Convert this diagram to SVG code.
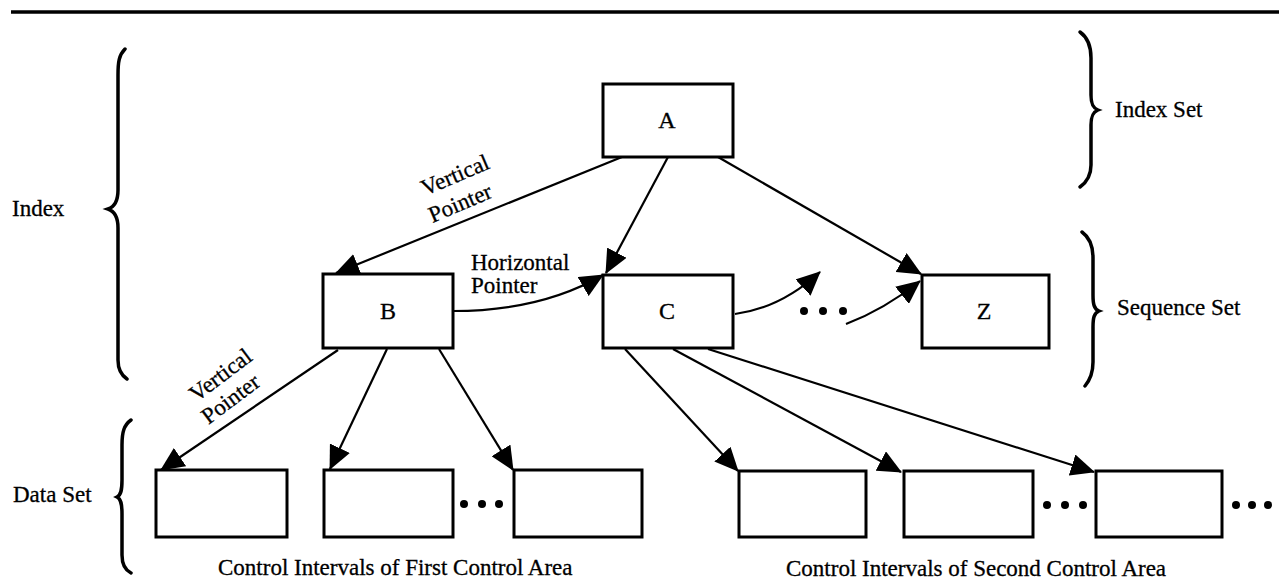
<svg xmlns="http://www.w3.org/2000/svg" width="1279" height="581" viewBox="0 0 1279 581">
<style>
.box{fill:#fff;stroke:#000;stroke-width:3}
.lbl{font-family:"Liberation Serif","Times New Roman",serif;font-size:23px;fill:#000;stroke:#000;stroke-width:0.3}
.nl{font-family:"Liberation Serif","Times New Roman",serif;font-size:24px;fill:#000;stroke:#000;stroke-width:0.3;text-anchor:middle}
.con{fill:none;stroke:#000;stroke-width:2.2;marker-end:url(#ah)}
.brace{fill:none;stroke:#000;stroke-width:3.5;stroke-linecap:round}
.dot{fill:#000}
</style>
<defs>
<marker id="ah" viewBox="0 0 24 22" refX="23" refY="11" markerWidth="24" markerHeight="22" orient="auto" markerUnits="userSpaceOnUse">
<path d="M0,0 L24,11 L0,22 Z" fill="#000"/>
</marker>
</defs>
<rect width="1279" height="581" fill="#fff"/>
<line x1="11" y1="12" x2="1279" y2="12" stroke="#000" stroke-width="3.5"/>

<g id="braces">
<path class="brace" d="M125,49 C119,55 118,62 118,75 L118,190 C118,202 114,207 108,209 C114,211 118,216 118,228 L118,360 C118,370 121,375 127,379"/>
<path class="brace" d="M131,420 C124,425 122,432 122,445 L122,480 C122,490 121,495 117,497 C121,499 122,504 122,514 L122,555 C122,565 125,570 131,573"/>
<path class="brace" d="M1080,32 C1087,37 1091,45 1091,58 L1091,95 C1091,104 1093,108 1098,110 C1093,112 1091,116 1091,125 L1091,165 C1091,176 1087,182 1080,187"/>
<path class="brace" d="M1082,232 C1089,237 1093,245 1093,258 L1093,295 C1093,304 1094,309 1099,311 C1094,313 1093,318 1093,327 L1093,362 C1093,373 1090,380 1085,386"/>
</g>

<g id="labels">
<text class="lbl" x="12" y="216">Index</text>
<text class="lbl" x="1115" y="117">Index Set</text>
<text class="lbl" x="1117" y="315">Sequence Set</text>
<text class="lbl" x="13" y="502">Data Set</text>
<text class="lbl" x="218" y="575">Control Intervals of First Control Area</text>
<text class="lbl" x="786" y="576">Control Intervals of Second Control Area</text>
<text class="lbl" x="471" y="270">Horizontal</text>
<text class="lbl" x="471" y="293">Pointer</text>
<text class="lbl" text-anchor="middle" transform="translate(458,182) rotate(-23)">Vertical</text>
<text class="lbl" text-anchor="middle" transform="translate(463,210) rotate(-23)">Pointer</text>
<text class="lbl" text-anchor="middle" transform="translate(225,381) rotate(-37)">Vertical</text>
<text class="lbl" text-anchor="middle" transform="translate(235,405) rotate(-37)">Pointer</text>
</g>

<g id="connectors">
<path class="con" d="M622,157 L336,273"/>
<path class="con" d="M668,157 L606,273"/>
<path class="con" d="M718,157 L921,274"/>
<path class="con" d="M453,311 C510,311 560,300 603,275"/>
<path class="con" d="M735,314 C765,310 795,295 820,272"/>
<path class="con" d="M846,324 C875,313 900,297 920,281"/>
<path class="con" d="M338,350 L161,470"/>
<path class="con" d="M387,349 L330,469"/>
<path class="con" d="M439,349 L513,470"/>
<path class="con" d="M625,349 L738,471"/>
<path class="con" d="M673,349 L901,472"/>
<path class="con" d="M708,349 L1094,472"/>
</g>

<g id="dots">
<circle class="dot" cx="804" cy="311" r="4"/><circle class="dot" cx="823" cy="311" r="4"/><circle class="dot" cx="843" cy="311" r="4"/>
<circle class="dot" cx="464" cy="504" r="4"/><circle class="dot" cx="482" cy="504" r="4"/><circle class="dot" cx="499" cy="504" r="4"/>
<circle class="dot" cx="1047" cy="505" r="4"/><circle class="dot" cx="1065" cy="505" r="4"/><circle class="dot" cx="1083" cy="505" r="4"/>
<circle class="dot" cx="1236" cy="505" r="4"/><circle class="dot" cx="1252" cy="505" r="4"/><circle class="dot" cx="1268" cy="505" r="4"/>
</g>

<g id="node-A"><rect class="box" x="603" y="84" width="130" height="73"/><text class="nl" x="667" y="128">A</text></g>
<g id="node-B"><rect class="box" x="323" y="274" width="130" height="74"/><text class="nl" x="388" y="319">B</text></g>
<g id="node-C"><rect class="box" x="603" y="275" width="130" height="73"/><text class="nl" x="667" y="319">C</text></g>
<g id="node-Z"><rect class="box" x="922" y="275" width="127" height="73"/><text class="nl" x="984" y="319">Z</text></g>
<g id="node-D1"><rect class="box" x="156" y="470" width="131" height="67"/></g>
<g id="node-D2"><rect class="box" x="324" y="470" width="129" height="67"/></g>
<g id="node-D3"><rect class="box" x="514" y="470" width="128" height="67"/></g>
<g id="node-D4"><rect class="box" x="739" y="471" width="127" height="66"/></g>
<g id="node-D5"><rect class="box" x="904" y="471" width="129" height="66"/></g>
<g id="node-D6"><rect class="box" x="1096" y="471" width="126" height="66"/></g>
</svg>
